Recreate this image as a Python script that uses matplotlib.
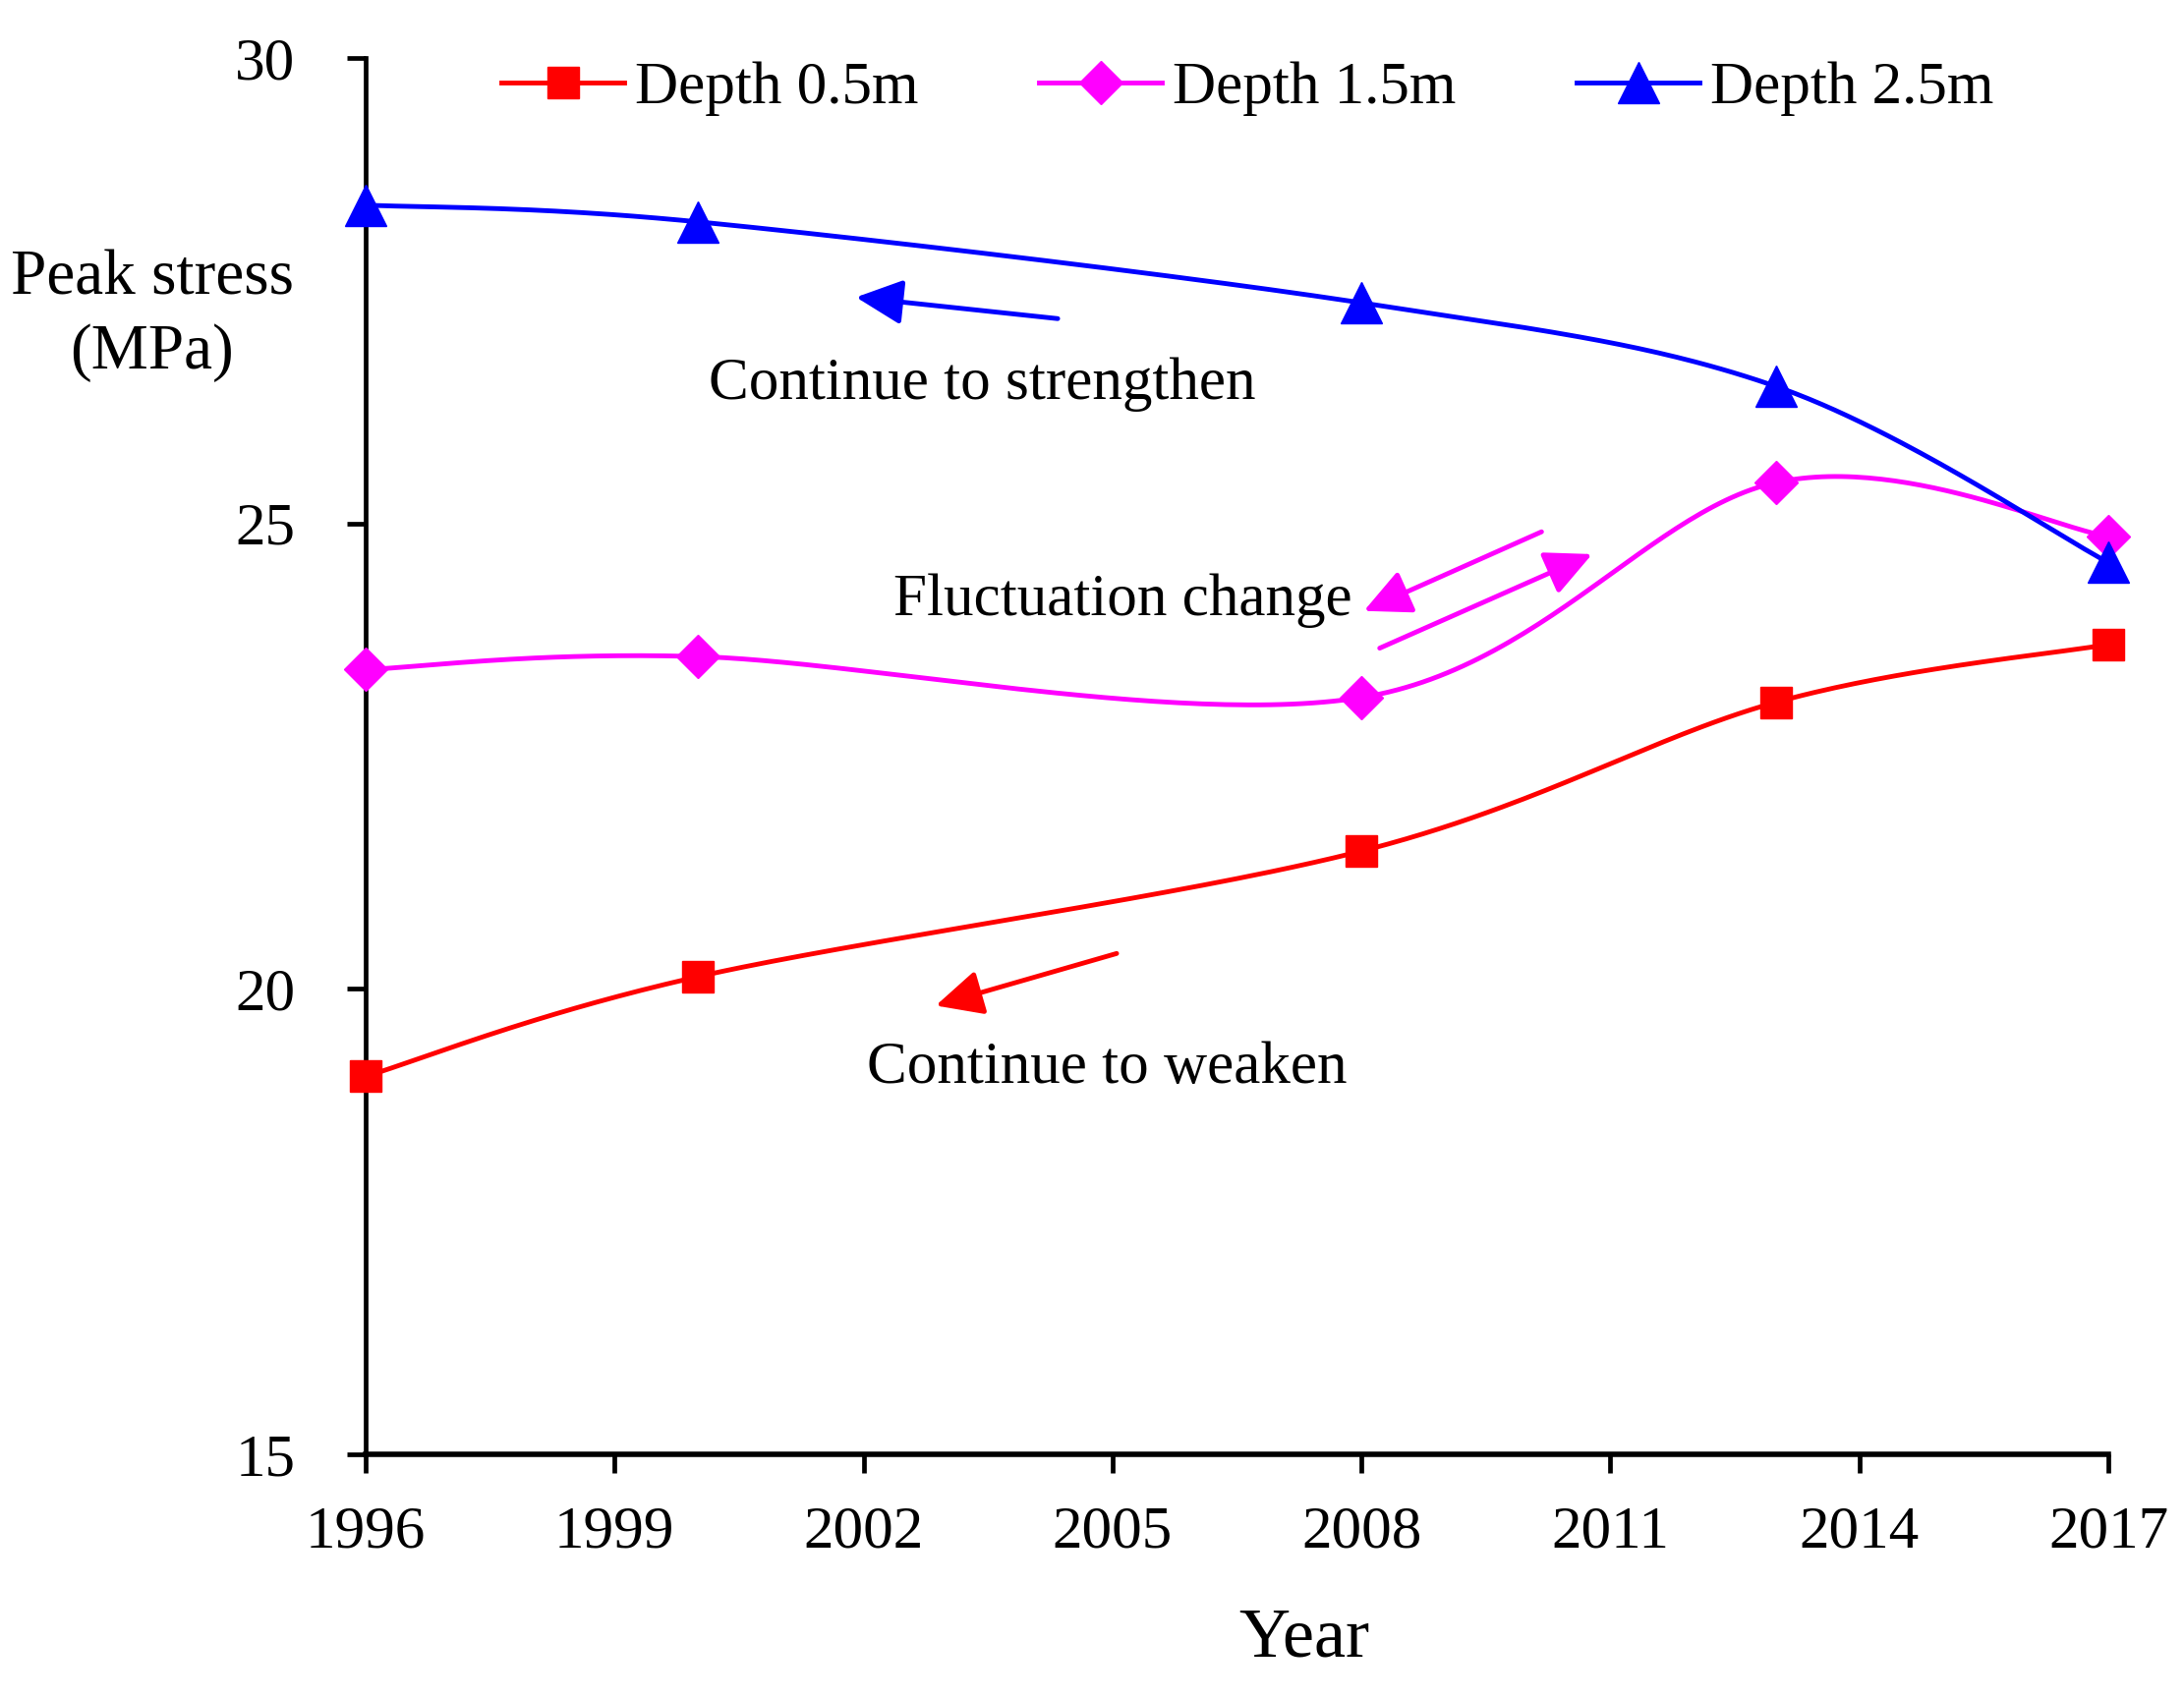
import numpy as np
import matplotlib
matplotlib.use("Agg")
import matplotlib.pyplot as plt
from matplotlib.lines import Line2D

plt.rcParams['font.family'] = ['Liberation Serif', 'DejaVu Serif']

# ---------------- data ----------------
years = [1996, 2000, 2008, 2013, 2017]
depth_05 = [19.06, 20.13, 21.48, 23.08, 23.70]
depth_15 = [23.43, 23.57, 23.13, 25.44, 24.86]
depth_25 = [28.42, 28.24, 27.37, 26.47, 24.58]
series_labels = ["Depth 0.5m", "Depth 1.5m", "Depth 2.5m"]
x_ticks = [1996, 1999, 2002, 2005, 2008, 2011, 2014, 2017]
y_ticks = [15, 20, 25, 30]


def excel_smooth(x, y, n=60):
    """Excel-style smoothed line: cubic Bezier, Catmull-Rom tangents (1/6)."""
    P = np.column_stack([x, y]).astype(float)
    ext = np.vstack([P[0], P, P[-1]])
    out = []
    t = np.linspace(0, 1, n)[:, None]
    for i in range(len(P) - 1):
        p0, p3 = ext[i + 1], ext[i + 2]
        c1 = p0 + (ext[i + 2] - ext[i]) / 6.0
        c2 = p3 - (ext[i + 3] - ext[i + 1]) / 6.0
        seg = ((1 - t) ** 3) * p0 + 3 * ((1 - t) ** 2) * t * c1 + 3 * (1 - t) * t ** 2 * c2 + t ** 3 * p3
        out.append(seg if i == 0 else seg[1:])
    out = np.vstack(out)
    return out[:, 0], out[:, 1]


W, H = 2222, 1728
fig = plt.figure(figsize=(W / 100, H / 100), dpi=100)
ax = fig.add_axes([372 / W, 1 - 1480 / H, (2145 - 372) / W, (1480 - 59) / H])

styles = [
    (depth_05, '#FF0000', 's', 23),
    (depth_15, '#FF00FF', 'D', 22),
    (depth_25, '#0000FF', '^', 30),
]
handles = []
for (vals, col, mk, ms), lab in zip(styles, series_labels):
    sx, sy = excel_smooth(years, vals)
    ax.plot(sx, sy, color=col, lw=3.5, clip_on=False, zorder=3)
    ax.plot(years, vals, ls='none', marker=mk, ms=ms, color=col, mec=col,
            clip_on=False, zorder=4)
    handles.append(Line2D([], [], color=col, lw=3.5, marker=mk, ms=ms, mec=col))

ax.set_xlim(1996, 2017)
ax.set_ylim(15, 30)
ax.set_xticks(x_ticks)
ax.set_yticks(y_ticks)
for s in ['top', 'right']:
    ax.spines[s].set_visible(False)
ax.spines['left'].set_linewidth(3.4)
ax.spines['bottom'].set_linewidth(4.0)
ax.tick_params(axis='both', direction='out', length=13.5, width=3.4, labelsize=44)
ax.tick_params(axis='x', pad=24)
ax.tick_params(axis='y', pad=38)

# legend
leg = fig.legend(handles=handles, labels=series_labels, ncol=3, frameon=False,
                 loc='center left', bbox_to_anchor=(510 / W, 1 - 90 / H),
                 borderpad=0, borderaxespad=0, fontsize=44,
                 handlelength=2.05, handletextpad=0.18, columnspacing=2.0,
                 numpoints=1)

# axis titles
fig.text(155 / W, 1 - 299 / H, "Peak stress", ha='center', va='baseline', fontsize=47)
fig.text(155 / W, 1 - 375 / H, "(MPa)", ha='center', va='baseline', fontsize=47)
fig.text(1327 / W, 1 - 1686 / H, "Year", ha='center', va='baseline', fontsize=52)

# annotations
ax.text(2000.13, 26.34, "Continue to strengthen", fontsize=44, va='baseline', ha='left')
ax.text(2002.36, 24.02, "Fluctuation change", fontsize=44, va='baseline', ha='left')
ax.text(2002.04, 18.99, "Continue to weaken", fontsize=44, va='baseline', ha='left')

arrows = [
    ((2004.34, 27.20), (2001.91, 27.43), '#0000FF'),
    ((2010.17, 24.91), (2008.03, 24.06), '#FF00FF'),
    ((2008.22, 23.66), (2010.78, 24.67), '#FF00FF'),
    ((2005.05, 20.38), (2002.87, 19.82), '#FF0000'),
]
for tail, tip, col in arrows:
    ax.annotate('', xy=tip, xytext=tail, annotation_clip=False,
                arrowprops=dict(arrowstyle='-|>,head_length=1.45,head_width=0.7',
                                mutation_scale=20, color=col, lw=3.5,
                                shrinkA=0, shrinkB=0))

fig.savefig('out.png', dpi=100)
